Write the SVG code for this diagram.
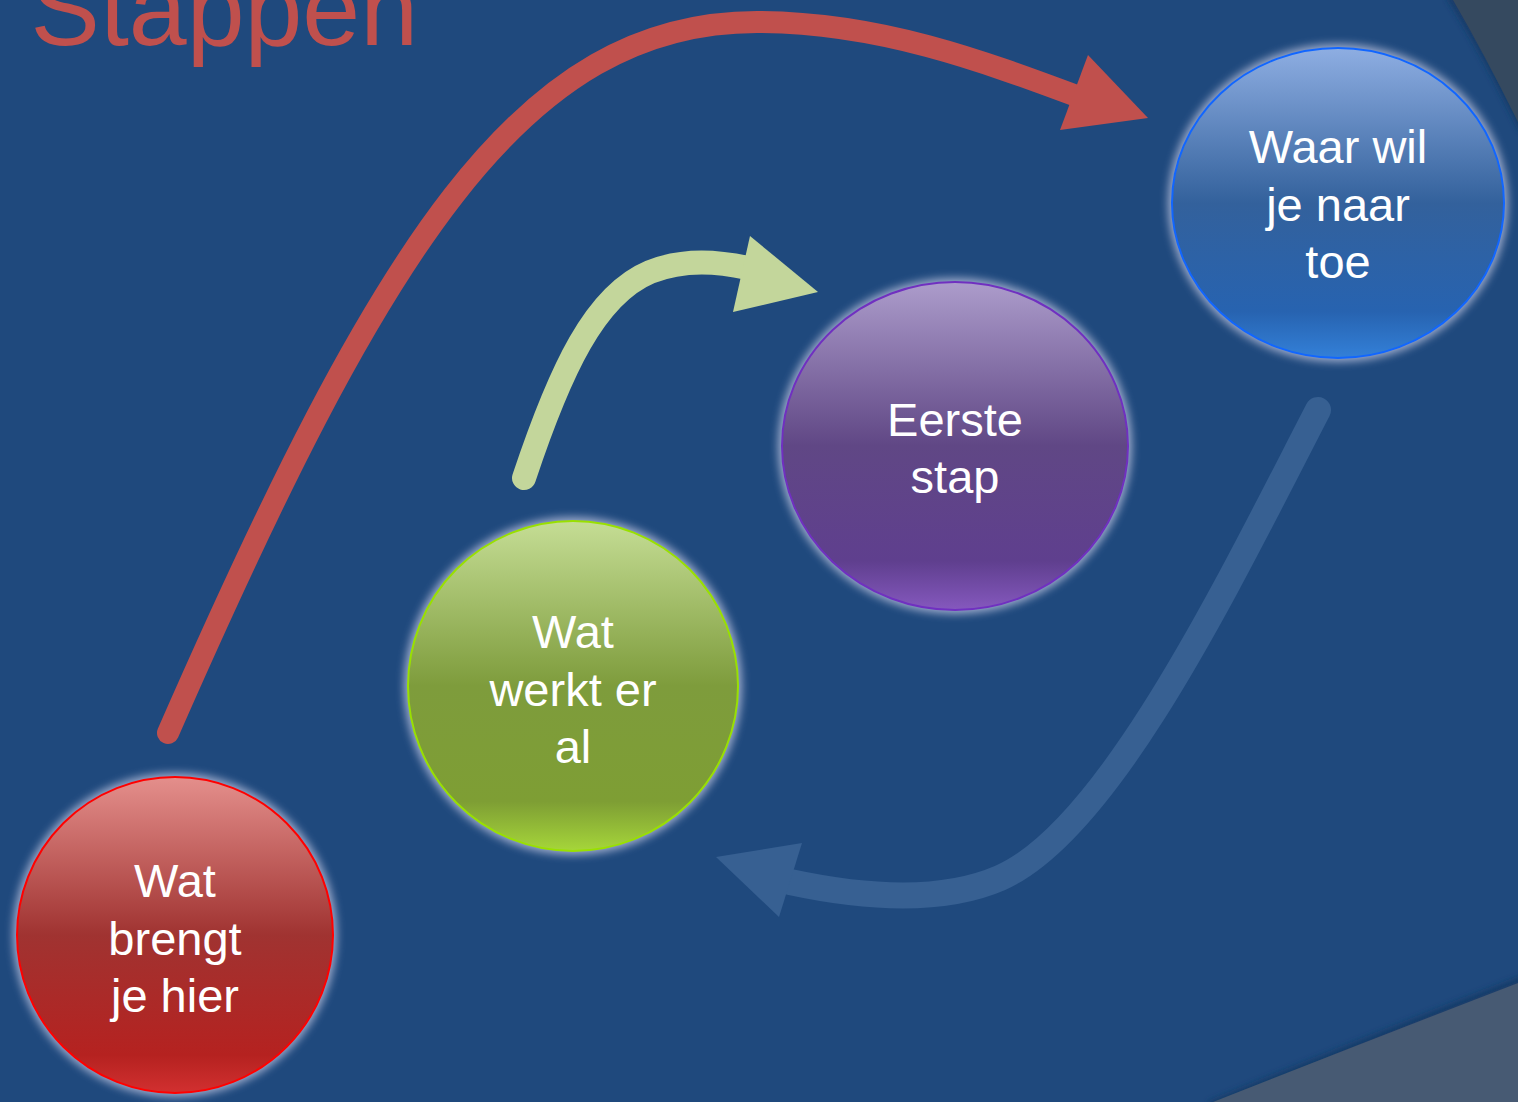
<svg xmlns="http://www.w3.org/2000/svg" width="1518" height="1102" viewBox="0 0 1518 1102">
<style>
.lbl{font-family:"Liberation Sans",Arial,sans-serif;font-size:47px;fill:#ffffff;text-anchor:middle}
.title{font-family:"Liberation Sans",Arial,sans-serif;font-size:104px;fill:#C0504D}
</style>
<defs>
<filter id="glow" x="-20%" y="-20%" width="140%" height="140%"><feGaussianBlur stdDeviation="4"/></filter>
<filter id="sh" x="-10%" y="-10%" width="120%" height="120%"><feGaussianBlur stdDeviation="3"/></filter>
<linearGradient id="gRed" x1="0" y1="0" x2="0" y2="1">
<stop offset="0" stop-color="#E48F8C"/><stop offset="0.5" stop-color="#A03331"/><stop offset="0.88" stop-color="#B52220"/><stop offset="1" stop-color="#D23030"/></linearGradient>
<linearGradient id="gGreen" x1="0" y1="0" x2="0" y2="1">
<stop offset="0" stop-color="#C5DD95"/><stop offset="0.5" stop-color="#7E9C3C"/><stop offset="0.85" stop-color="#7E9E34"/><stop offset="1" stop-color="#A6D63A"/></linearGradient>
<linearGradient id="gPurple" x1="0" y1="0" x2="0" y2="1">
<stop offset="0" stop-color="#AC9CCB"/><stop offset="0.5" stop-color="#604785"/><stop offset="0.85" stop-color="#5F3F8E"/><stop offset="1" stop-color="#8558BE"/></linearGradient>
<linearGradient id="gBlue" x1="0" y1="0" x2="0" y2="1">
<stop offset="0" stop-color="#8EAEE2"/><stop offset="0.5" stop-color="#33619C"/><stop offset="0.85" stop-color="#2763B0"/><stop offset="1" stop-color="#3380D8"/></linearGradient>
</defs>
<rect x="0" y="0" width="1518" height="1102" fill="#1F497D"/>
<g id="corners">
<path d="M1450,-5 Q1485,50 1524,130" fill="none" stroke="#173a66" stroke-width="8" filter="url(#sh)"/>
<path d="M1453,0 Q1485,55 1518,122 L1518,0 Z" fill="#35495F"/>
<path d="M1210,1106 Q1370,1040 1524,980" fill="none" stroke="#173a66" stroke-width="8" filter="url(#sh)"/>
<path d="M1213,1102 Q1370,1040 1518,983 L1518,1102 Z" fill="#475A73"/>
</g>
<text class="title" x="-33" y="45">- Stappen</text>
<g id="connectors">
<path d="M168,733 C 380,250 520,20 760,22 C 880,23 980,60 1082,98" fill="none" stroke="#C0504D" stroke-width="22" stroke-linecap="round"/>
<polygon points="1148,118 1088,55 1060,130" fill="#C0504D"/>
<path d="M524,478 C 560,370 595,295 650,272 C 685,258 720,262 748,268" fill="none" stroke="#C3D69B" stroke-width="24" stroke-linecap="round"/>
<polygon points="818,292 750,236 733,312" fill="#C3D69B"/>
<path d="M1318,410 C 1230,580 1110,830 1000,878 C 940,904 860,897 790,882" fill="none" stroke="#376092" stroke-width="26" stroke-linecap="round"/>
<polygon points="716,857 802,843 779,917" fill="#376092"/>
</g>
<g id="node-red">
<circle cx="175" cy="935" r="162" fill="#C8CCE6" opacity="0.75" filter="url(#glow)"/>
<circle cx="175" cy="935" r="158" fill="url(#gRed)" stroke="#FF0000" stroke-width="2"/>
<text class="lbl" x="175" y="897">Wat</text>
<text class="lbl" x="175" y="955">brengt</text>
<text class="lbl" x="175" y="1012">je hier</text>
</g>
<g id="node-green">
<circle cx="573" cy="686" r="169" fill="#C8CCE6" opacity="0.75" filter="url(#glow)"/>
<circle cx="573" cy="686" r="165" fill="url(#gGreen)" stroke="#99E000" stroke-width="2"/>
<text class="lbl" x="573" y="648">Wat</text>
<text class="lbl" x="573" y="706">werkt er</text>
<text class="lbl" x="573" y="763">al</text>
</g>
<g id="node-purple">
<ellipse cx="955" cy="446" rx="177" ry="168" fill="#C8CCE6" opacity="0.75" filter="url(#glow)"/>
<ellipse cx="955" cy="446" rx="173" ry="164" fill="url(#gPurple)" stroke="#7030C0" stroke-width="2"/>
<text class="lbl" x="955" y="436">Eerste</text>
<text class="lbl" x="955" y="493">stap</text>
</g>
<g id="node-blue">
<ellipse cx="1338" cy="203" rx="170" ry="159" fill="#C8CCE6" opacity="0.75" filter="url(#glow)"/>
<ellipse cx="1338" cy="203" rx="166" ry="155" fill="url(#gBlue)" stroke="#1166FF" stroke-width="2"/>
<text class="lbl" x="1338" y="163">Waar wil</text>
<text class="lbl" x="1338" y="221">je naar</text>
<text class="lbl" x="1338" y="278">toe</text>
</g>
</svg>
